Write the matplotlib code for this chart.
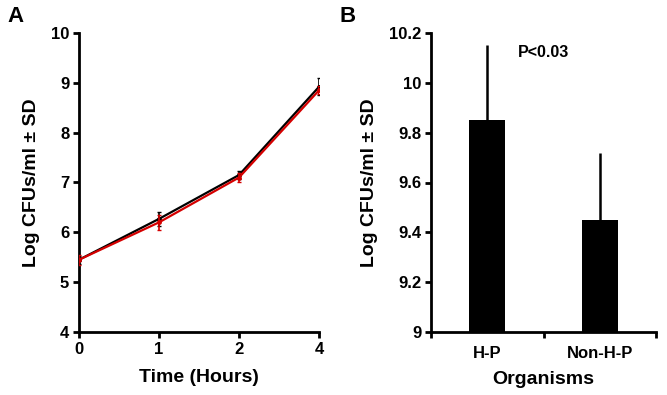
import numpy as np
import matplotlib
matplotlib.use("Agg")
import matplotlib.pyplot as plt

plt.rcParams['font.family'] = ['Liberation Sans', 'DejaVu Sans']
plt.rcParams['font.weight'] = 'bold'

# panel A: growth curves
time_labels = ['0', '1', '2', '4']
black_mean = [5.45, 6.27, 7.15, 8.92]
black_sd = [0.08, 0.14, 0.08, 0.17]
red_mean = [5.45, 6.20, 7.10, 8.85]
red_sd = [0.10, 0.15, 0.10, 0.08]

# panel B: bars
organisms = ['H-P', 'Non-H-P']
bar_mean = [9.85, 9.45]
bar_sd = [0.30, 0.27]
p_text = 'P<0.03'

TICK_FS = 12
LABEL_FS = 14

fig = plt.figure(figsize=(6.67, 3.95), dpi=100)


def style_axes(ax):
    for s in ['top', 'right']:
        ax.spines[s].set_visible(False)
    for s in ['left', 'bottom']:
        ax.spines[s].set_linewidth(2)
    ax.tick_params(direction='out', length=4, width=2, labelsize=TICK_FS, pad=3)
    for lab in ax.get_xticklabels() + ax.get_yticklabels():
        lab.set_fontweight('bold')


axA = fig.add_axes((79 / 667, 63 / 395, 240 / 667, 299 / 395))
x = np.arange(len(time_labels))
axA.errorbar(x, black_mean, yerr=black_sd, color='black', lw=1.6,
             marker='o', ms=2.5, capsize=1.5, elinewidth=1.2, zorder=3)
axA.errorbar(x, red_mean, yerr=red_sd, color='#d40000', lw=1.6,
             marker='o', ms=2.5, capsize=1.5, elinewidth=1.2, zorder=4)
axA.set_xlim(0, 3)
axA.set_ylim(4, 10)
axA.set_xticks(x)
axA.set_xticklabels(time_labels)
axA.set_yticks(np.arange(4, 11, 1))
axA.set_xlabel('Time (Hours)', fontsize=LABEL_FS, fontweight='bold', labelpad=9)
axA.set_ylabel('Log CFUs/ml \u00b1 SD', fontsize=LABEL_FS, fontweight='bold', labelpad=8)
style_axes(axA)
axA.patch.set_visible(False)
for sp in axA.spines.values():
    sp.set_clip_on(False)

axB = fig.add_axes((431 / 667, 63 / 395, 225 / 667, 299 / 395))
xb = np.arange(len(organisms)) + 0.5
axB.bar(xb, bar_mean, width=0.32, bottom=0, color='black')
axB.errorbar(xb, bar_mean, yerr=[np.zeros(len(bar_sd)), bar_sd], fmt='none',
             ecolor='black', elinewidth=1.8, capsize=0)
axB.set_xlim(0, 2)
axB.set_ylim(9, 10.2)
axB.set_xticks([0, 1, 2])
axB.set_xticks(xb, minor=True)
axB.set_xticklabels([])
axB.set_xticklabels(organisms, minor=True)
axB.set_yticks([9, 9.2, 9.4, 9.6, 9.8, 10, 10.2])
axB.set_yticklabels(['9', '9.2', '9.4', '9.6', '9.8', '10', '10.2'])
axB.set_xlabel('Organisms', fontsize=LABEL_FS, fontweight='bold', labelpad=7)
axB.set_ylabel('Log CFUs/ml \u00b1 SD', fontsize=LABEL_FS, fontweight='bold', labelpad=8)
axB.text(1.0, 10.12, p_text, fontsize=11.5, fontweight='bold', ha='center', va='center')
style_axes(axB)
axB.tick_params(axis='x', which='minor', length=0, labelsize=TICK_FS, pad=10)
for lab in axB.get_xticklabels(minor=True):
    lab.set_fontweight('bold')

fig.text(15 / 667, 1 - 16 / 395, 'A', fontsize=16, fontweight='bold', ha='center', va='center')
fig.text(348 / 667, 1 - 16 / 395, 'B', fontsize=16, fontweight='bold', ha='center', va='center')

fig.savefig('out.png', dpi=100)
